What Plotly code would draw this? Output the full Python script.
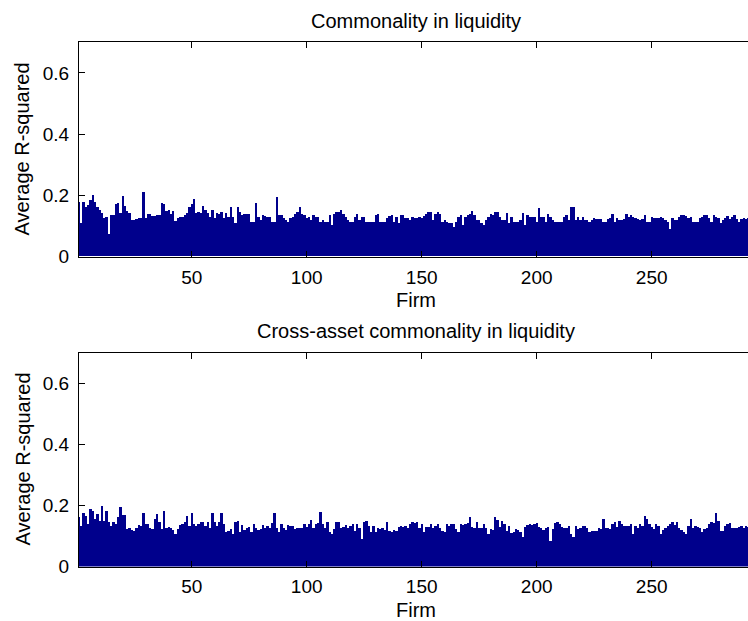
import plotly.graph_objects as go

firms = list(range(1, 295))

commonality = [
    0.178, 0.108, 0.178, 0.162, 0.168, 0.184, 0.200, 0.178, 0.162, 0.152,
    0.141, 0.125, 0.130, 0.072, 0.135, 0.135, 0.170, 0.175, 0.141, 0.197,
    0.165, 0.148, 0.141, 0.120, 0.118, 0.122, 0.124, 0.125, 0.209, 0.124,
    0.140, 0.138, 0.132, 0.133, 0.135, 0.135, 0.175, 0.170, 0.148, 0.150,
    0.140, 0.148, 0.116, 0.124, 0.128, 0.130, 0.135, 0.142, 0.160, 0.170,
    0.187, 0.141, 0.146, 0.142, 0.165, 0.150, 0.141, 0.130, 0.150, 0.124,
    0.142, 0.140, 0.145, 0.124, 0.141, 0.130, 0.160, 0.128, 0.108, 0.160,
    0.146, 0.135, 0.140, 0.140, 0.140, 0.113, 0.113, 0.173, 0.130, 0.119,
    0.135, 0.133, 0.130, 0.130, 0.113, 0.113, 0.194, 0.135, 0.135, 0.124,
    0.119, 0.113, 0.124, 0.130, 0.140, 0.146, 0.162, 0.140, 0.135, 0.124,
    0.130, 0.119, 0.135, 0.130, 0.130, 0.113, 0.119, 0.113, 0.113, 0.135,
    0.103, 0.140, 0.146, 0.146, 0.151, 0.140, 0.130, 0.119, 0.113, 0.113,
    0.130, 0.140, 0.119, 0.130, 0.130, 0.113, 0.113, 0.113, 0.113, 0.135,
    0.140, 0.113, 0.113, 0.113, 0.124, 0.133, 0.135, 0.113, 0.130, 0.108,
    0.135, 0.135, 0.124, 0.124, 0.119, 0.130, 0.124, 0.124, 0.128, 0.124,
    0.133, 0.140, 0.146, 0.146, 0.119, 0.140, 0.146, 0.140, 0.113, 0.119,
    0.113, 0.108, 0.108, 0.097, 0.113, 0.128, 0.135, 0.103, 0.130, 0.135,
    0.140, 0.149, 0.135, 0.119, 0.119, 0.108, 0.103, 0.119, 0.130, 0.140,
    0.135, 0.146, 0.146, 0.130, 0.119, 0.119, 0.143, 0.108, 0.130, 0.113,
    0.113, 0.113, 0.120, 0.143, 0.103, 0.135, 0.130, 0.130, 0.130, 0.113,
    0.157, 0.130, 0.130, 0.113, 0.140, 0.130, 0.119, 0.113, 0.113, 0.113,
    0.113, 0.130, 0.135, 0.119, 0.162, 0.162, 0.119, 0.130, 0.119, 0.130,
    0.119, 0.119, 0.113, 0.119, 0.124, 0.121, 0.121, 0.121, 0.113, 0.113,
    0.121, 0.124, 0.140, 0.113, 0.124, 0.119, 0.119, 0.121, 0.140, 0.130,
    0.135, 0.130, 0.124, 0.121, 0.119, 0.121, 0.135, 0.113, 0.113, 0.130,
    0.124, 0.124, 0.124, 0.130, 0.124, 0.119, 0.113, 0.091, 0.124, 0.119,
    0.119, 0.130, 0.135, 0.135, 0.133, 0.124, 0.130, 0.113, 0.113, 0.113,
    0.124, 0.130, 0.135, 0.135, 0.124, 0.113, 0.135, 0.130, 0.124, 0.108,
    0.119, 0.124, 0.133, 0.121, 0.130, 0.135, 0.121, 0.113, 0.121, 0.124,
    0.121, 0.124, 0.121, 0.120,
]

cross_asset = [
    0.162, 0.135, 0.178, 0.167, 0.140, 0.189, 0.183, 0.156, 0.172, 0.151,
    0.199, 0.151, 0.183, 0.146, 0.135, 0.146, 0.140, 0.162, 0.196, 0.170,
    0.170, 0.124, 0.127, 0.120, 0.118, 0.129, 0.138, 0.135, 0.178, 0.140,
    0.140, 0.129, 0.124, 0.156, 0.172, 0.146, 0.124, 0.183, 0.129, 0.131,
    0.129, 0.120, 0.108, 0.124, 0.138, 0.140, 0.146, 0.167, 0.135, 0.178,
    0.140, 0.135, 0.140, 0.146, 0.146, 0.135, 0.146, 0.129, 0.178, 0.146,
    0.135, 0.146, 0.178, 0.140, 0.113, 0.118, 0.124, 0.108, 0.146, 0.151,
    0.113, 0.138, 0.120, 0.129, 0.131, 0.113, 0.140, 0.129, 0.120, 0.124,
    0.138, 0.129, 0.135, 0.127, 0.143, 0.178, 0.129, 0.115, 0.140, 0.129,
    0.120, 0.138, 0.135, 0.135, 0.124, 0.126, 0.129, 0.127, 0.140, 0.131,
    0.140, 0.153, 0.129, 0.140, 0.143, 0.181, 0.140, 0.129, 0.146, 0.113,
    0.108, 0.124, 0.146, 0.146, 0.129, 0.131, 0.138, 0.127, 0.135, 0.140,
    0.118, 0.140, 0.129, 0.092, 0.146, 0.151, 0.135, 0.113, 0.135, 0.113,
    0.129, 0.124, 0.127, 0.120, 0.146, 0.118, 0.113, 0.120, 0.118, 0.131,
    0.135, 0.130, 0.135, 0.129, 0.140, 0.146, 0.143, 0.146, 0.129, 0.140,
    0.113, 0.131, 0.131, 0.140, 0.129, 0.135, 0.140, 0.129, 0.118, 0.113,
    0.140, 0.135, 0.140, 0.140, 0.124, 0.113, 0.140, 0.138, 0.140, 0.144,
    0.162, 0.131, 0.129, 0.146, 0.129, 0.129, 0.140, 0.127, 0.108, 0.124,
    0.120, 0.162, 0.153, 0.131, 0.149, 0.140, 0.118, 0.135, 0.110, 0.116,
    0.124, 0.120, 0.113, 0.099, 0.131, 0.138, 0.140, 0.138, 0.140, 0.143,
    0.131, 0.129, 0.120, 0.129, 0.131, 0.086, 0.124, 0.143, 0.146, 0.140,
    0.131, 0.129, 0.129, 0.135, 0.108, 0.097, 0.135, 0.124, 0.129, 0.135,
    0.135, 0.129, 0.113, 0.118, 0.118, 0.118, 0.129, 0.124, 0.156, 0.129,
    0.127, 0.124, 0.140, 0.146, 0.131, 0.149, 0.140, 0.135, 0.135, 0.135,
    0.140, 0.108, 0.135, 0.129, 0.140, 0.135, 0.167, 0.156, 0.140, 0.131,
    0.124, 0.140, 0.135, 0.108, 0.120, 0.129, 0.135, 0.140, 0.146, 0.138,
    0.146, 0.129, 0.120, 0.113, 0.108, 0.135, 0.156, 0.129, 0.135, 0.131,
    0.129, 0.113, 0.124, 0.129, 0.140, 0.146, 0.143, 0.178, 0.149, 0.118,
    0.118, 0.135, 0.140, 0.143, 0.129, 0.127, 0.127, 0.131, 0.135, 0.129,
    0.135, 0.130, 0.125, 0.130,
]

titles = ["Commonality in liquidity", "Cross-asset commonality in liquidity"]
x_label = "Firm"
y_label = "Average R-squared"
x_ticks = [50, 100, 150, 200, 250]
y_ticks = [0, 0.2, 0.4, 0.6]
y_tick_text = ["0", "0.2", "0.4", "0.6"]

W, H = 748, 621
L = 79
BAR_COLOR = "rgb(0,0,140)"
FONT = "Liberation Sans"
FS_TICK = 19
FS_LABEL = 20

fig = go.Figure()
fig.add_trace(go.Bar(x=firms, y=commonality, marker=dict(color=BAR_COLOR, line=dict(width=0)),
                     xaxis="x", yaxis="y", showlegend=False, hoverinfo="skip"))
fig.add_trace(go.Bar(x=firms, y=cross_asset, marker=dict(color=BAR_COLOR, line=dict(width=0)),
                     xaxis="x2", yaxis="y2", showlegend=False, hoverinfo="skip"))

def py(p):
    return 1 - p / H

top_dom = [py(256.7), py(42.3)]
bot_dom = [py(566.5), py(352.5)]

x_range = [1, 1 + (W - L) / 2.3]

xcommon = dict(range=x_range, tickvals=x_ticks, ticks="inside", ticklen=6, tickcolor="black",
               showline=True, linecolor="black", linewidth=1, mirror="ticks",
               showgrid=False, zeroline=False, tickfont=dict(family=FONT, size=FS_TICK, color="black"),
               ticklabelstandoff=3)
ycommon = dict(range=[0, 0.7], tickvals=y_ticks, ticktext=y_tick_text, ticks="inside", ticklen=6,
               tickcolor="black", showline=True, linecolor="black", linewidth=1, mirror=False,
               showgrid=False, zeroline=False, tickfont=dict(family=FONT, size=FS_TICK, color="black"),
               ticklabelstandoff=5)

fig.update_layout(
    width=W, height=H, autosize=False,
    margin=dict(l=L, r=0, t=0, b=0, autoexpand=False),
    paper_bgcolor="white", plot_bgcolor="white",
    bargap=0,
    xaxis=dict(domain=[0, 1], anchor="y", **xcommon),
    yaxis=dict(domain=top_dom, anchor="x", **ycommon),
    xaxis2=dict(domain=[0, 1], anchor="y2", **xcommon),
    yaxis2=dict(domain=bot_dom, anchor="x2", **ycommon),
    font=dict(family=FONT, size=FS_TICK, color="black"),
)

annots = []
cx = (416 - L) / (W - L)
for dom, title in zip([top_dom, bot_dom], titles):
    annots.append(dict(text=title, xref="paper", yref="paper", x=cx,
                       y=dom[1] + 21.5 / H, xanchor="center", yanchor="middle", showarrow=False,
                       font=dict(family=FONT, size=FS_LABEL, color="black")))
    annots.append(dict(text=x_label, xref="paper", yref="paper", x=cx,
                       y=dom[0] - 43 / H, xanchor="center", yanchor="middle", showarrow=False,
                       font=dict(family=FONT, size=FS_LABEL, color="black")))
    annots.append(dict(text=y_label, xref="paper", yref="paper", x=(22 - L) / (W - L),
                       y=(dom[0] + dom[1]) / 2, xanchor="center", yanchor="middle", showarrow=False,
                       textangle=-90, font=dict(family=FONT, size=FS_LABEL, color="black")))
fig.update_layout(annotations=annots)

fig.write_html(
    "out.html",
    config={"displayModeBar": False, "responsive": False},
    post_script="document.body.style.margin='0';document.body.style.padding='0';document.body.style.overflow='hidden';",
)
